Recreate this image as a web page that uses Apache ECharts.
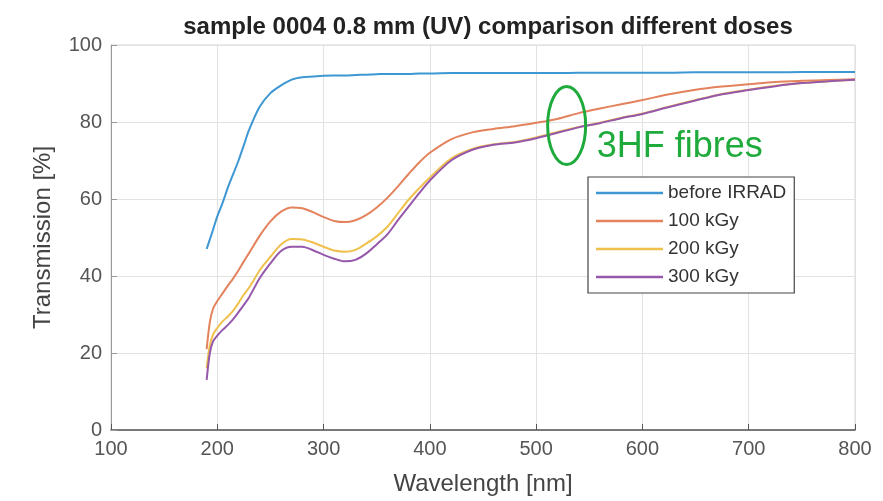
<!DOCTYPE html>
<html><head><meta charset="utf-8">
<script src="https://cdn.jsdelivr.net/npm/echarts@6/dist/echarts.min.js"></script>
<style>html,body{margin:0;padding:0;background:#fff}#c{width:883px;height:501px}</style>
</head><body><div id="c"></div>
<script>
const wavelengths = [190,193,196,200,205,210,215,220,225,230,240,250,260,270,280,290,300,310,320,330,340,350,360,370,380,390,400,420,440,460,480,500,520,540,560,580,600,625,650,675,700,725,750,775,800];
const beforeIrrad = [47,49.5,52,55.5,59,63,66.5,70,74,78,84,87.5,89.5,91,91.6,91.8,92,92.1,92.1,92.2,92.3,92.4,92.5,92.5,92.5,92.6,92.6,92.7,92.7,92.7,92.7,92.7,92.7,92.8,92.8,92.8,92.8,92.8,92.9,92.9,92.9,92.9,93,93,93];
const kGy100 = [21,28,31.5,33.5,35.5,37.5,39.4,41.5,43.8,46,50.5,54.2,56.7,57.8,57.6,56.6,55.3,54.3,54,54.5,55.8,57.8,60.3,63.3,66.5,69.5,72,75.5,77.3,78.2,78.9,79.8,80.8,82.3,83.5,84.6,85.7,87.2,88.4,89.2,89.8,90.4,90.7,90.9,91.1];
const kGy200 = [16,22,24.8,26.5,28.2,29.5,31,33,35.2,37,41.5,45,48.2,49.6,49.5,48.7,47.6,46.6,46.3,46.8,48.4,50.3,52.8,56.3,59.8,62.8,65.6,70.5,73,74.2,74.8,76,77.4,78.7,79.8,81.1,82.2,84,85.7,87.3,88.4,89.4,90.1,90.6,91];
const kGy300 = [13,20,23,24.5,26,27.3,28.8,30.6,32.5,34.5,39.5,43.3,46.5,47.6,47.6,46.7,45.5,44.5,43.8,44.2,45.8,48.2,50.8,54.5,58,61.5,64.8,70,72.8,74.1,74.7,75.8,77.2,78.6,79.7,81,82.1,83.9,85.6,87.2,88.3,89.3,90.1,90.6,91];
const seriesNames = ['before IRRAD','100 kGy','200 kGy','300 kGy'];
const xTicks = {min:100,max:800,interval:100};
const yTicks = {min:0,max:100,interval:20};
const annotation = {ellipseX:528.7, ellipseY:79.1, label:'3HF fibres', labelX:557, labelY:73.5};

const colors = ['#3d97d3','#e3825c','#f0c04c','#9558ab'];
const allY = [beforeIrrad,kGy100,kGy200,kGy300];
const chart = echarts.init(document.getElementById('c'));
const font = 'Liberation Sans, Arial, Helvetica, sans-serif';
chart.setOption({
  animation:false,
  title:{text:'sample 0004 0.8 mm (UV) comparison different doses',left:483,textAlign:'center',top:10,
    textStyle:{fontFamily:font,fontSize:24,fontWeight:'bold',color:'#222'}},
  grid:{left:111,right:28,top:45,bottom:68,show:true,borderColor:'#d6d6d6',borderWidth:1},
  xAxis:{type:'value',min:xTicks.min,max:xTicks.max,interval:xTicks.interval,
    name:'Wavelength [nm]',nameLocation:'middle',nameGap:42,
    nameTextStyle:{fontFamily:font,fontSize:24,color:'#444'},
    axisLine:{lineStyle:{color:'#555',width:1.5}},axisTick:{inside:true,length:6,lineStyle:{color:'#555'}},
    axisLabel:{fontFamily:font,fontSize:20,color:'#555',margin:9},
    splitLine:{lineStyle:{color:'#e2e2e2'}}},
  yAxis:{type:'value',min:yTicks.min,max:yTicks.max,interval:yTicks.interval,
    name:'Transmission [%]',nameLocation:'middle',nameGap:56,
    nameTextStyle:{fontFamily:font,fontSize:24,color:'#444'},
    axisLine:{show:true,lineStyle:{color:'#999',width:1}},axisTick:{show:true,inside:true,length:6,lineStyle:{color:'#999'}},
    axisLabel:{fontFamily:font,fontSize:20,color:'#555',margin:9},
    splitLine:{lineStyle:{color:'#e2e2e2'}}},
  legend:{orient:'vertical',left:588,top:177,data:seriesNames,icon:'rect',
    backgroundColor:'#fff',borderColor:'#444',borderWidth:1.2,padding:[6,8,6,8],
    itemWidth:67,itemHeight:2.5,itemGap:8,
    textStyle:{fontFamily:font,fontSize:19,color:'#333',lineHeight:20}},
  series: seriesNames.map((n,i)=>({name:n,type:'line',symbol:'none',smooth:0.3,
    lineStyle:{width:2,color:colors[i]},itemStyle:{color:colors[i]},
    data:wavelengths.map((x,j)=>[x,allY[i][j]])}))
});
const c = chart.convertToPixel({gridIndex:0},[annotation.ellipseX,annotation.ellipseY]);
const t = chart.convertToPixel({gridIndex:0},[annotation.labelX,annotation.labelY]);
chart.setOption({graphic:[
  {type:'ellipse',shape:{cx:c[0],cy:c[1],rx:19,ry:39},style:{fill:'none',stroke:'#1faa3c',lineWidth:3},z:100},
  {type:'text',x:t[0],y:t[1],style:{text:annotation.label,fill:'#1faa3c',fontFamily:font,fontSize:36,verticalAlign:'middle'},z:100}
]});
</script></body></html>
